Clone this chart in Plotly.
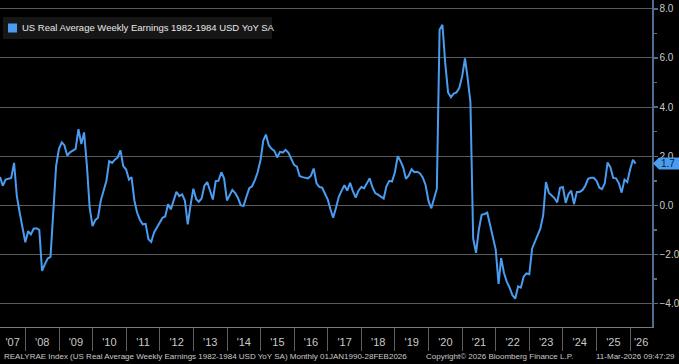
import pandas as pd
import plotly.graph_objects as go

# ---------------- data ----------------
dates = pd.date_range("2007-03-31", "2026-02-28", freq="ME")
values = [
    1.16, 0.80, 1.05, 1.08, 1.12, 1.73, 0.38, -0.30, -0.90, -1.50,
    -1.05, -1.18, -0.95, -0.93, -1.00, -2.66, -2.39, -2.16, -2.10, -0.20,
    1.60, 2.30, 2.57, 2.45, 2.03, 2.16, 2.22, 2.30, 3.10, 2.50,
    2.97, 1.60, -0.10, -0.84, -0.59, -0.50, 0.20, 0.55, 1.00, 1.80,
    1.73, 1.86, 1.95, 2.24, 1.60, 1.46, 1.05, 1.15, 0.20, -0.30,
    -0.60, -0.77, -0.75, -1.38, -1.49, -1.10, -0.90, -0.75, -0.50, -0.45,
    0.05, -0.16, 0.24, 0.55, 0.38, 0.45, 0.20, -0.77, 0.00, 0.68,
    0.25, 0.15, 0.28, 0.80, 0.95, 0.60, 0.24, 0.99, 1.00, 1.35,
    1.10, 0.20, 0.45, 0.63, 0.50, 0.30, 0.00, -0.02, 0.35, 0.70,
    0.78, 1.03, 1.35, 1.85, 2.65, 2.88, 2.45, 2.30, 2.22, 1.95,
    2.18, 2.15, 2.26, 2.14, 1.90, 1.65, 1.58, 1.20, 1.15, 1.13,
    1.10, 1.20, 1.50, 0.90, 0.75, 0.72, 0.50, 0.24, -0.18, -0.50,
    -0.10, 0.35, 0.60, 0.82, 0.60, 0.92, 0.58, 0.32, 0.60, 0.75,
    0.70, 0.90, 1.10, 0.75, 0.50, 0.44, 0.36, 0.28, 0.78, 1.00,
    0.97, 1.35, 2.00, 1.82, 1.55, 1.08, 1.22, 1.47, 1.35, 1.37,
    1.30, 1.13, 0.82, 0.18, -0.12, 0.27, 0.68, 7.15, 7.35, 5.80,
    4.60, 4.40, 4.55, 4.60, 4.78, 5.25, 5.98, 5.20, 4.20, -1.35,
    -1.93, -1.00, -0.38, -0.35, -0.30, -0.80, -1.30, -1.80, -3.20, -2.15,
    -2.75, -3.10, -3.35, -3.65, -3.80, -3.30, -3.35, -2.90, -2.77, -2.80,
    -1.75, -1.50, -1.25, -0.95, -0.40, 0.95, 0.52, 0.40, 0.30, 0.12,
    0.72, 0.75, 0.10, 0.45, 0.60, 0.05, 0.55, 0.55, 0.62, 0.80,
    1.08, 1.12, 1.12, 1.00, 0.72, 0.66, 0.90, 1.75, 1.55, 1.12,
    1.10, 0.90, 0.52, 1.05, 0.95, 1.46, 1.86, 1.70,
]
series_name = "US Real Average Weekly Earnings 1982-1984 USD YoY SA"
years = list(range(2007, 2027))
year_labels = ["'%02d" % (y % 100) for y in years]
y_major = [-4, -2, 0, 2, 4, 6, 8]
y_minor = [-3, -1, 1, 3, 5, 7]
footer_left = "REALYRAE Index (US Real Average Weekly Earnings 1982-1984 USD YoY SA) Monthly 01JAN1990-28FEB2026"
footer_mid = "Copyright\u00a9 2026 Bloomberg Finance L.P."
footer_right = "11-Mar-2026 09:47:29"

# ---------------- layout helpers ----------------
W, H = 679, 364
PL, PR, PT, PB = 0, 652, 0, 327          # plot area in pixels
x_start = pd.Timestamp("2007-03-31")
x_end = pd.Timestamp("2026-08-26")
y_lo, y_hi = -4.95, 8.36

def px(xp):
    return (xp - PL) / (PR - PL)

def py(yp):
    return (PB - yp) / (PB - PT)

label_pos = []
for y in years:
    s = max(pd.Timestamp(y, 1, 1), x_start)
    e = min(pd.Timestamp(y + 1, 1, 1), x_end)
    label_pos.append(s + (e - s) / 2)
year_bounds = [pd.Timestamp(y, 1, 1) for y in years[1:]]

BLUE = "#4a9cf0"
FONT = "Liberation Sans, Arial, sans-serif"
TXT = "#c9c9c9"

fig = go.Figure()
fig.add_trace(go.Scatter(
    x=dates, y=values, mode="lines",
    line=dict(color=BLUE, width=2), showlegend=False, hoverinfo="skip",
))

fig.update_layout(
    width=W, height=H,
    paper_bgcolor="#000000", plot_bgcolor="#000000",
    margin=dict(l=PL, r=W - PR, t=PT, b=H - PB, pad=0, autoexpand=False),
    font=dict(family=FONT, color=TXT, size=11),
    showlegend=False,
)

fig.update_xaxes(
    type="date", range=[x_start, x_end], automargin=False,
    showgrid=False, zeroline=False,
    showline=True, linecolor="#7a7a7a", linewidth=1,
    tickmode="array", tickvals=label_pos, ticktext=year_labels,
    ticks="outside", ticklen=5, tickcolor="rgba(0,0,0,0)",
    tickfont=dict(family=FONT, size=11, color=TXT),
    minor=dict(tickmode="array", tickvals=year_bounds, ticks="outside",
               ticklen=23, tickwidth=1, tickcolor="#5e5e5e", showgrid=False),
)

fig.update_yaxes(
    side="right", range=[y_lo, y_hi], automargin=False,
    tickmode="array", tickvals=y_major, tickformat=".1f",
    showgrid=True, gridcolor="#5a5a5a", gridwidth=1, zeroline=False,
    showline=True, linecolor="#4d6e92", linewidth=1.5,
    ticks="outside", ticklen=4, tickwidth=1.5, tickcolor="#4d6e92",
    tickfont=dict(family=FONT, size=10, color=TXT),
    minor=dict(tickmode="array", tickvals=y_minor, ticks="outside",
               ticklen=3, tickwidth=1.5, tickcolor="#4d6e92", showgrid=False),
)

# legend box (manual, to match the square swatch layout)
fig.add_shape(type="rect", xref="paper", yref="paper",
              x0=px(3), x1=px(272), y0=py(39), y1=py(17),
              fillcolor="#161616", line=dict(width=0), layer="above")
fig.add_shape(type="rect", xref="paper", yref="paper",
              x0=px(8), x1=px(17), y0=py(32.5), y1=py(23.5),
              fillcolor=BLUE, line=dict(width=0), layer="above")
fig.add_annotation(x=px(20), y=py(28), xref="paper", yref="paper",
                   xanchor="left", yanchor="middle", showarrow=False,
                   text=series_name,
                   font=dict(family=FONT, size=9.5, color="#e8e8e8"))

# last value tag on right axis
last = values[-1]
half = 6 / ((PB - PT) / (y_hi - y_lo))
fig.add_shape(type="path", xref="paper", yref="y",
              path="M {a},{v} L {b},{t} L {c},{t} L {c},{u} L {b},{u} Z".format(
                  a=px(653), b=px(659), c=px(680), v=last, t=last + half, u=last - half),
              fillcolor=BLUE, line=dict(width=0), layer="above")
fig.add_annotation(x=px(668), y=last, xref="paper", yref="y",
                   xanchor="center", yanchor="middle", showarrow=False,
                   text="%.1f" % last,
                   font=dict(family=FONT, size=10, color="#0a1a30"))

# footer
for txt, xp, anchor in [(footer_left, 2, "left"), (footer_mid, 424, "left"),
                        (footer_right, 677, "right")]:
    fig.add_annotation(x=px(xp), y=py(356), xref="paper", yref="paper",
                       xanchor=anchor, yanchor="middle", showarrow=False,
                       text=txt, font=dict(family=FONT, size=8, color=TXT))

fig.write_html(
    "out.html",
    config={"displayModeBar": False, "staticPlot": True},
    post_script="document.body.style.margin='0';document.body.style.overflow='hidden';"
                "document.body.style.background='#000';",
)
